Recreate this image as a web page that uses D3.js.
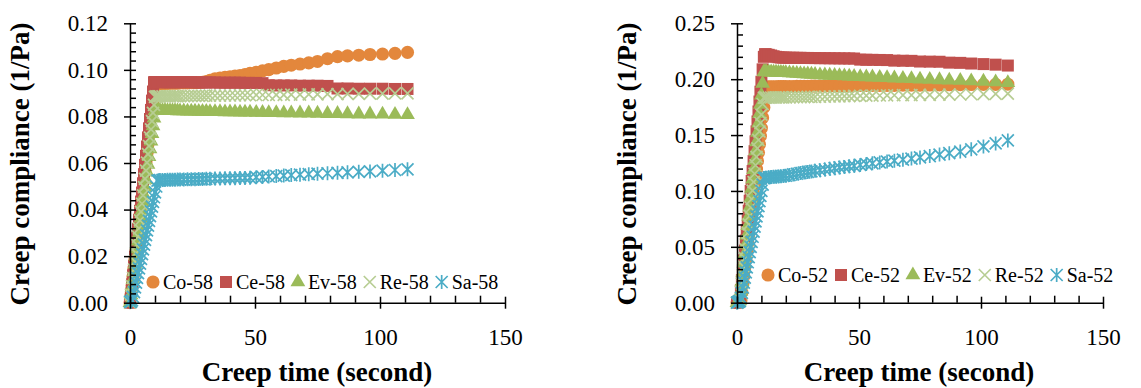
<!DOCTYPE html>
<html>
<head>
<meta charset="utf-8">
<script src="https://cdn.jsdelivr.net/npm/d3@7"></script>
<style>
  body { margin: 0; background: #fff; }
  svg { display: block; }
</style>
</head>
<body>
<div id="chart"></div>
<script>
// Sample times (s), shared by every series
const times = [0, 0.4, 0.8, 1.2, 1.6, 2, 2.4, 2.8, 3.2, 3.6,
  4, 4.4, 4.8, 5.2, 5.6, 6, 6.4, 6.8, 7.2, 7.6,
  8, 8.4, 8.8, 9.2, 9.6, 10, 10.5, 11, 11.5, 12,
  13, 14, 15, 16, 17, 18, 19, 20, 21.5, 23,
  24.5, 26, 27.5, 29, 30.5, 32, 34, 36, 38, 40,
  42, 44, 46, 48, 50.5, 53, 55.5, 58.5, 61.5, 64.5,
  68, 71.5, 75, 79, 83, 87, 91.5, 96, 101, 106,
  111];

// Left panel (58) creep compliance, 1/Pa
const co58 = [0, 0.0035, 0.0073, 0.011, 0.0148, 0.0186, 0.0224, 0.0262, 0.030, 0.0338,
  0.0376, 0.0414, 0.0452, 0.049, 0.0528, 0.0566, 0.0604, 0.0642, 0.068, 0.0718,
  0.0756, 0.0794, 0.0832, 0.087, 0.0905, 0.0935, 0.094, 0.094, 0.0941, 0.0941,
  0.0942, 0.0942, 0.0942, 0.0943, 0.0943, 0.0943, 0.0943, 0.0944, 0.0944, 0.0944,
  0.0945, 0.0945, 0.0946, 0.0947, 0.095, 0.0955, 0.0962, 0.0965, 0.0968, 0.097,
  0.0973, 0.0976, 0.098, 0.0985, 0.099, 0.0996, 0.1001, 0.1008, 0.1015, 0.102,
  0.1025, 0.103, 0.1036, 0.1048, 0.1057, 0.106, 0.1063, 0.1066, 0.1068, 0.1071,
  0.1075];
const ce58 = [0, 0.0039, 0.0079, 0.0118, 0.0158, 0.0197, 0.0237, 0.0276, 0.0316, 0.0355,
  0.0394, 0.0434, 0.0473, 0.0513, 0.0552, 0.0592, 0.0631, 0.0671, 0.071, 0.0749,
  0.0789, 0.0828, 0.0868, 0.0907, 0.0947, 0.0948, 0.0948, 0.0948, 0.0948, 0.0947,
  0.0947, 0.0947, 0.0947, 0.0947, 0.0947, 0.0947, 0.0947, 0.0947, 0.0947, 0.0947,
  0.0947, 0.0946, 0.0946, 0.0946, 0.0946, 0.0946, 0.0946, 0.0945, 0.0945, 0.0945,
  0.0945, 0.0945, 0.0944, 0.0944, 0.0944, 0.0943, 0.0934, 0.0933, 0.0933, 0.0933,
  0.0932, 0.0932, 0.0932, 0.0931, 0.092, 0.092, 0.0919, 0.0919, 0.0919, 0.0918,
  0.0918];
const ev58 = [0, 0.0033, 0.0066, 0.0099, 0.0132, 0.0165, 0.0198, 0.0231, 0.0264, 0.0297,
  0.033, 0.0363, 0.0396, 0.0429, 0.0462, 0.0495, 0.0528, 0.0561, 0.0594, 0.0627,
  0.066, 0.0693, 0.0726, 0.0759, 0.0792, 0.0825, 0.0826, 0.0826, 0.0826, 0.0825,
  0.0825, 0.0825, 0.0824, 0.0824, 0.0824, 0.0824, 0.0823, 0.0823, 0.0823, 0.0822,
  0.0822, 0.0822, 0.0821, 0.0821, 0.0821, 0.082, 0.082, 0.082, 0.0819, 0.0819,
  0.0819, 0.0818, 0.0818, 0.0818, 0.0817, 0.0817, 0.0816, 0.0816, 0.0815, 0.0815,
  0.0814, 0.0814, 0.0813, 0.0812, 0.0812, 0.0811, 0.081, 0.081, 0.0809, 0.0808,
  0.0807];
const re58 = [0, 0.0035, 0.0071, 0.0106, 0.0142, 0.0177, 0.0213, 0.0248, 0.0284, 0.0319,
  0.0354, 0.039, 0.0425, 0.0461, 0.0496, 0.0532, 0.0567, 0.0602, 0.0638, 0.0673,
  0.0709, 0.0744, 0.078, 0.0815, 0.085, 0.0884, 0.0886, 0.0886, 0.0886, 0.0886,
  0.0886, 0.0886, 0.0886, 0.0886, 0.0887, 0.0887, 0.0887, 0.0887, 0.0887, 0.0887,
  0.0888, 0.0888, 0.0888, 0.0888, 0.0889, 0.0889, 0.0889, 0.0889, 0.089, 0.089,
  0.089, 0.0891, 0.0891, 0.0891, 0.0892, 0.0892, 0.0892, 0.0893, 0.0893, 0.0894,
  0.0894, 0.0895, 0.0895, 0.0896, 0.0896, 0.0897, 0.0897, 0.0898, 0.0898, 0.0899,
  0.0899];
const sa58 = [0.0005, 0.0003, 0.001, 0.0025, 0.0045, 0.0066, 0.0086, 0.0107, 0.0127, 0.0147,
  0.0168, 0.0188, 0.0209, 0.0229, 0.0249, 0.027, 0.029, 0.0311, 0.0331, 0.0351,
  0.0372, 0.0392, 0.0413, 0.0433, 0.0453, 0.0474, 0.0499, 0.0524, 0.0526, 0.0527,
  0.0527, 0.0527, 0.0528, 0.0528, 0.0528, 0.0528, 0.0529, 0.0529, 0.0529, 0.053,
  0.053, 0.053, 0.0531, 0.0531, 0.0532, 0.0532, 0.0533, 0.0533, 0.0534, 0.0534,
  0.0535, 0.0536, 0.0536, 0.0537, 0.0539, 0.054, 0.0542, 0.0544, 0.0546, 0.0548,
  0.055, 0.0552, 0.0554, 0.0556, 0.0558, 0.056, 0.0562, 0.0564, 0.0567, 0.057,
  0.0573];

// Right panel (52)
const co52 = [0, 0.0005, 0.001, 0.0015, 0.002, 0.0093, 0.0167, 0.024, 0.0314, 0.0387,
  0.0461, 0.0534, 0.0608, 0.0681, 0.0755, 0.0828, 0.0902, 0.0975, 0.1049, 0.1122,
  0.1196, 0.1269, 0.1343, 0.1416, 0.149, 0.1563, 0.1655, 0.1747, 0.1839, 0.193,
  0.1931, 0.1931, 0.1932, 0.1932, 0.1933, 0.1933, 0.1934, 0.1934, 0.1935, 0.1935,
  0.1936, 0.1936, 0.1937, 0.1937, 0.1938, 0.1938, 0.1939, 0.1939, 0.194, 0.194,
  0.1941, 0.1941, 0.1942, 0.1942, 0.1943, 0.1943, 0.1944, 0.1944, 0.1945, 0.1945,
  0.1946, 0.1947, 0.1947, 0.1948, 0.1949, 0.195, 0.1951, 0.1952, 0.1953, 0.1954,
  0.1955];
const ce52 = [0, 0.0005, 0.001, 0.002, 0.0112, 0.0201, 0.029, 0.0379, 0.0467, 0.0556,
  0.0645, 0.0734, 0.0823, 0.0912, 0.1, 0.1089, 0.1178, 0.1267, 0.1356, 0.1444,
  0.1533, 0.1622, 0.1711, 0.18, 0.1888, 0.1977, 0.2088, 0.22, 0.2224, 0.2222,
  0.2218, 0.2212, 0.2205, 0.22, 0.2196, 0.2194, 0.2193, 0.2193, 0.2192, 0.2192,
  0.2191, 0.2191, 0.219, 0.219, 0.2189, 0.2189, 0.2188, 0.2188, 0.2187, 0.2187,
  0.2186, 0.2186, 0.2185, 0.2185, 0.2175, 0.2174, 0.2173, 0.2172, 0.2171, 0.2166,
  0.2165, 0.2164, 0.2158, 0.2157, 0.2156, 0.2148, 0.2146, 0.214, 0.2135, 0.213,
  0.2122];
const ev52 = [0, 0.0005, 0.001, 0.002, 0.0103, 0.0187, 0.027, 0.0354, 0.0437, 0.0521,
  0.0604, 0.0688, 0.0771, 0.0855, 0.0938, 0.1022, 0.1105, 0.1189, 0.1272, 0.1356,
  0.1439, 0.1523, 0.1606, 0.169, 0.1773, 0.1857, 0.1961, 0.2065, 0.2066, 0.2065,
  0.2064, 0.2063, 0.2062, 0.2061, 0.206, 0.2059, 0.2058, 0.2057, 0.2055, 0.2053,
  0.2051, 0.2049, 0.2047, 0.2045, 0.2043, 0.2041, 0.2038, 0.2036, 0.2034, 0.2032,
  0.203, 0.2028, 0.2026, 0.2024, 0.2022, 0.202, 0.2018, 0.2015, 0.2012, 0.2009,
  0.2006, 0.2003, 0.2, 0.1997, 0.1994, 0.1991, 0.1988, 0.1984, 0.198, 0.1975,
  0.1968];
const re52 = [0, 0.0005, 0.001, 0.002, 0.0096, 0.0171, 0.0247, 0.0322, 0.0398, 0.0474,
  0.0549, 0.0625, 0.07, 0.0776, 0.0852, 0.0927, 0.1003, 0.1078, 0.1154, 0.123,
  0.1305, 0.1381, 0.1456, 0.1532, 0.1608, 0.1683, 0.1778, 0.1834, 0.1835, 0.1835,
  0.1835, 0.1836, 0.1836, 0.1836, 0.1837, 0.1837, 0.1837, 0.1838, 0.1838, 0.1839,
  0.1839, 0.184, 0.184, 0.1841, 0.1842, 0.1842, 0.1843, 0.1844, 0.1845, 0.1846,
  0.1847, 0.1848, 0.1849, 0.185, 0.1851, 0.1852, 0.1853, 0.1854, 0.1855, 0.1856,
  0.1857, 0.1858, 0.1859, 0.186, 0.1861, 0.1862, 0.1863, 0.1865, 0.1867, 0.1869,
  0.1871];
const sa52 = [0, 0.0005, 0.001, 0.0015, 0.0043, 0.0088, 0.0134, 0.018, 0.0225, 0.0271,
  0.0316, 0.0362, 0.0408, 0.0453, 0.0499, 0.0544, 0.059, 0.0636, 0.0681, 0.0727,
  0.0772, 0.0818, 0.0864, 0.0909, 0.0955, 0.1, 0.1057, 0.1114, 0.1116, 0.1118,
  0.1122, 0.1124, 0.1126, 0.1128, 0.113, 0.1132, 0.1134, 0.1136, 0.1142, 0.1148,
  0.1154, 0.116, 0.1165, 0.117, 0.1175, 0.118, 0.1186, 0.1192, 0.1198, 0.1204,
  0.121, 0.1215, 0.122, 0.1225, 0.1233, 0.124, 0.1247, 0.1255, 0.1263, 0.1271,
  0.128, 0.129, 0.13, 0.1312, 0.1325, 0.1338, 0.1352, 0.1372, 0.1398, 0.1425,
  0.1452];

const names58 = ["Co-58", "Ce-58", "Ev-58", "Re-58", "Sa-58"];
const names52 = ["Co-52", "Ce-52", "Ev-52", "Re-52", "Sa-52"];
const xTicks = [0, 50, 100, 150];

// marker look per series position (Co, Ce, Ev, Re, Sa)
const styles = [
  { shape: "circle", color: "#E3873C" },
  { shape: "square", color: "#C0504D" },
  { shape: "triangle", color: "#9BBB59" },
  { shape: "cross", color: "#B7CD93" },
  { shape: "star", color: "#4BACC6" }
];
const markerPath = {
  circle: d3.symbol(d3.symbolCircle, 135)(),
  square: d3.symbol(d3.symbolSquare, 144)(),
  triangle: d3.symbol(d3.symbolTriangle, 95)(),
  cross: "M-6,-6L6,6M-6,6L6,-6",
  star: "M-6,-6L6,6M-6,6L6,-6M0,-7L0,7"
};
const serif = "'Liberation Serif', 'Times New Roman', serif";

const svg = d3.select("#chart").append("svg")
  .attr("width", 1141)
  .attr("height", 388)
  .style("font-family", serif);

function addMarker(sel, st) {
  const filled = st.shape === "circle" || st.shape === "square" || st.shape === "triangle";
  return sel.append("path")
    .attr("d", markerPath[st.shape])
    .attr("fill", filled ? st.color : "none")
    .attr("stroke", filled ? "none" : st.color)
    .attr("stroke-width", filled ? 0 : 1.7);
}

function drawPanel(p) {
  const x = d3.scaleLinear().domain([0, 150]).range([p.left, p.right]);
  const y = d3.scaleLinear().domain([0, p.yMax]).range([p.bottom, p.top]);
  const g = svg.append("g");

  // series, drawn in order so Sa ends on top
  p.series.forEach((vals, i) => {
    const st = styles[i];
    const grp = g.append("g");
    times.forEach((t, k) => {
      addMarker(grp, st).attr("transform", `translate(${x(t)},${y(vals[k])})`);
    });
  });

  // y axis: major ticks cross the line, minor ticks inside
  const yAx = g.append("g")
    .attr("transform", `translate(${p.left},0)`)
    .call(d3.axisLeft(y).tickValues(p.yMajor).tickSizeInner(6).tickSizeOuter(0)
      .tickPadding(16).tickFormat(d3.format(".2f")));
  yAx.selectAll(".tick line").attr("x1", 6);
  g.append("g")
    .attr("transform", `translate(${p.left},0)`)
    .call(d3.axisRight(y).tickValues(p.yMinor).tickSize(6).tickFormat(""))
    .call(a => a.select(".domain").remove());

  // x axis
  const xAx = g.append("g")
    .attr("transform", `translate(0,${p.bottom})`)
    .call(d3.axisBottom(x).tickValues(xTicks).tickSizeInner(6).tickSizeOuter(0).tickPadding(20));
  xAx.selectAll(".tick line").attr("y1", -6);
  g.append("g")
    .attr("transform", `translate(0,${p.bottom})`)
    .call(d3.axisTop(x).tickValues(d3.range(10, 150, 10).filter(v => v % 50)).tickSize(7).tickFormat(""))
    .call(a => a.select(".domain").remove());

  g.selectAll("g").attr("font-family", null).attr("font-size", null);
  g.selectAll(".domain, .tick line").attr("stroke", "#000").attr("stroke-width", 1.5);
  g.selectAll(".tick text")
    .attr("fill", "#000")
    .style("font-family", serif)
    .style("font-size", "23px");

  // axis titles
  g.append("text")
    .attr("transform", `translate(${p.left - 101},${(p.top + p.bottom) / 2 + 1}) rotate(-90)`)
    .attr("text-anchor", "middle")
    .style("font-weight", "bold")
    .style("font-size", "27px")
    .text("Creep compliance (1/Pa)");
  g.append("text")
    .attr("x", p.titleX)
    .attr("y", 381)
    .attr("text-anchor", "middle")
    .style("font-weight", "bold")
    .style("font-size", "27px")
    .text("Creep time (second)");

  // legend
  let lx = p.legendX;
  p.names.forEach((name, i) => {
    const item = g.append("g");
    addMarker(item, styles[i]).attr("transform", `translate(${lx},${p.legendY})`);
    const t = item.append("text")
      .attr("x", lx + 10)
      .attr("y", p.legendY + 7)
      .style("font-size", "20px")
      .text(name);
    lx += 10 + t.node().getComputedTextLength() + 13;
  });
}

drawPanel({
  left: 130, right: 505, top: 23.3, bottom: 302.7,
  yMax: 0.12,
  yMajor: [0, 0.02, 0.04, 0.06, 0.08, 0.10, 0.12],
  yMinor: d3.range(1, 30).filter(i => i % 5).map(i => i * 0.004),
  series: [co58, ce58, ev58, re58, sa58],
  names: names58,
  legendX: 153, legendY: 282,
  titleX: 317
});

drawPanel({
  left: 737, right: 1103, top: 23.3, bottom: 302.7,
  yMax: 0.25,
  yMajor: [0, 0.05, 0.10, 0.15, 0.20, 0.25],
  yMinor: d3.range(1, 25).filter(i => i % 5).map(i => i * 0.01),
  series: [co52, ce52, ev52, re52, sa52],
  names: names52,
  legendX: 768, legendY: 275,
  titleX: 919
});
</script>
</body>
</html>
